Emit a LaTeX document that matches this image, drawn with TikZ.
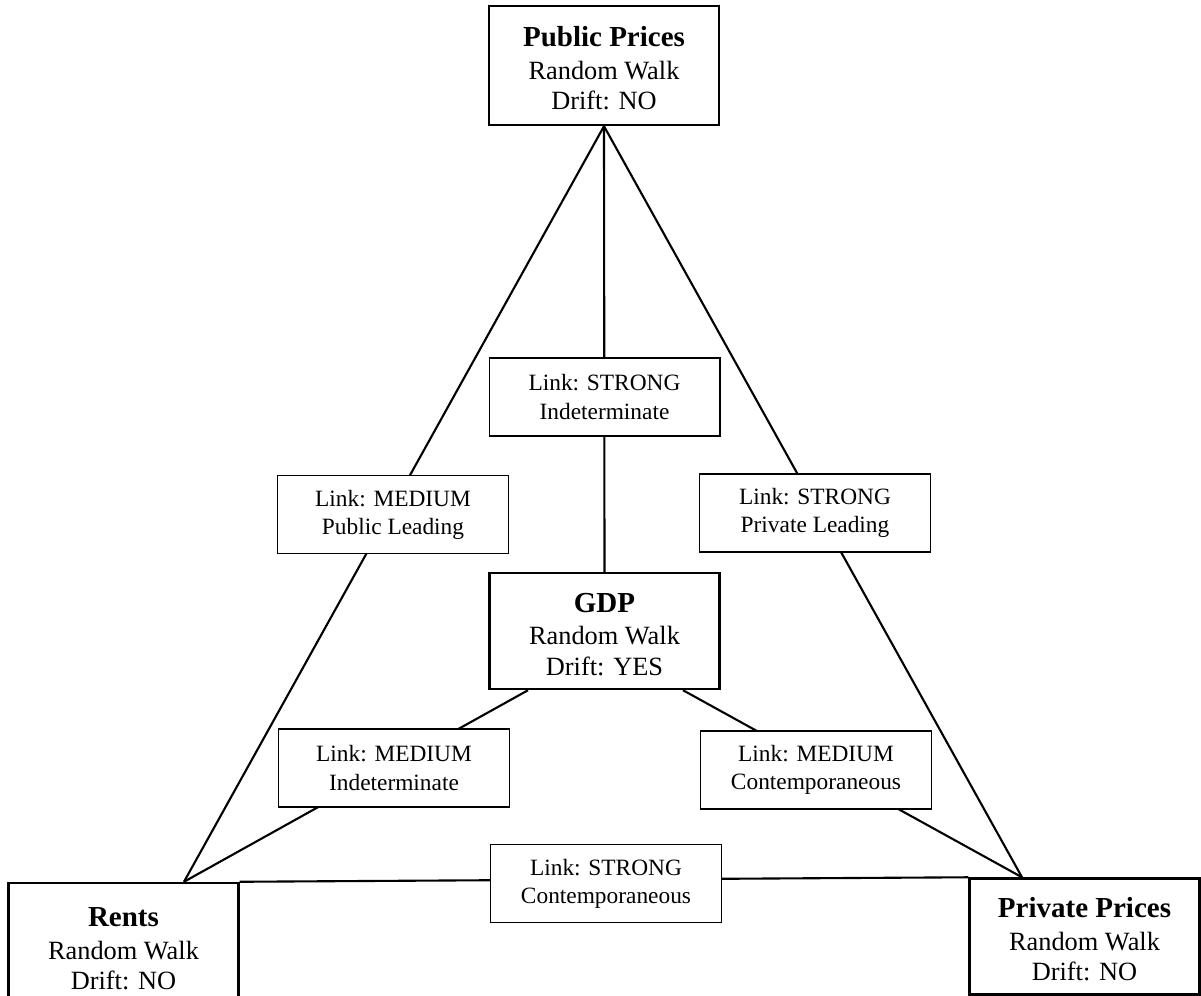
\documentclass[tikz,border=0pt]{standalone}
\usepackage{fontspec}
\setmainfont{Liberation Serif}
\usetikzlibrary{backgrounds}
\newcommand{\boxtitle}[1]{{\fontsize{16.5}{19}\selectfont\bfseries\rule{0pt}{14.7pt}#1}}

\begin{document}
\begin{tikzpicture}[x=0.02cm,y=-0.02cm,
	var/.style={draw, line width=1.4pt, fill=white, minimum width=4.6cm, minimum height=2.32cm, inner sep=0pt, align=center, font=\fontsize{15}{17.5}\selectfont},
	lnk/.style={draw, line width=0.6pt, fill=white, minimum width=4.62cm, minimum height=1.56cm, inner sep=0pt, align=center, font=\fontsize{13.3}{16}\selectfont},
	edge/.style={line width=1.2pt}]
	\useasboundingbox (0,0) rectangle (1201,996);
	\node[var, minimum height=2.38cm] (pub) at (604,65.5) {\boxtitle{Public Prices}\\[1pt]Random Walk\\Drift: NO};
	\node[var] (gdp) at (604.5,631) {\boxtitle{GDP}\\[1pt]Random Walk\\Drift: YES};
	\node[var, minimum height=2.5cm] (rent) at (123.5,945.5) {\boxtitle{Rents}\\[1pt]Random Walk\\Drift: NO};
	\node[var] (priv) at (1084.5,936.5) {\boxtitle{Private Prices}\\[1pt]Random Walk\\Drift: NO};
	\node[lnk] (l1) at (604.5,397) {Link: STRONG\\Indeterminate};
	\node[lnk] (l2) at (393,514.5) {Link: MEDIUM\\Public Leading};
	\node[lnk] (l3) at (815,513) {Link: STRONG\\Private Leading};
	\node[lnk] (l4) at (394,768) {Link: MEDIUM\\Indeterminate};
	\node[lnk] (l5) at (816,770) {Link: MEDIUM\\Contemporaneous};
	\node[lnk] (l6) at (606,883.5) {Link: STRONG\\Contemporaneous};
	\coordinate (rentTop) at ([xshift=1.21cm]rent.north);
	\coordinate (privTop) at ([xshift=-1.25cm]priv.north);
	\coordinate (gdpL) at ([xshift=-1.53cm]gdp.south);
	\coordinate (gdpR) at ([xshift=1.57cm]gdp.south);
	\begin{scope}[on background layer]
		\draw[edge] (pub.south) -- (rentTop);
		\draw[edge] (pub.south) -- (privTop);
		\draw[edge] (pub.south) -- (gdp.north);
		\draw[edge] (gdpL) -- (rentTop);
		\draw[edge] (gdpR) -- (privTop);
		\draw[edge] (rent.north east) -- (priv.north west);
	\end{scope}
\end{tikzpicture}
\end{document}
